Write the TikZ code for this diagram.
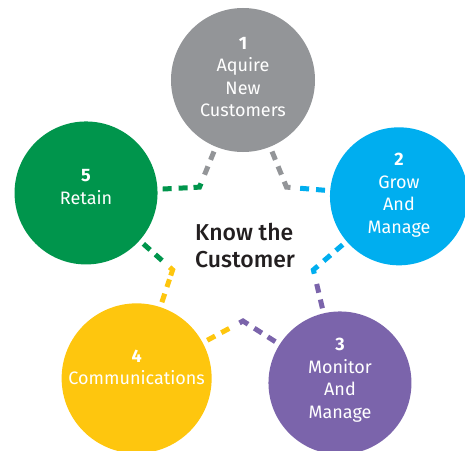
\documentclass[tikz,border=0pt]{standalone}
\usepackage{fontspec}
\setmainfont{Fira Sans}
\newfontfamily\midfont{Fira Sans Medium}
\usetikzlibrary{calc}

\definecolor{stage1}{HTML}{939598}
\definecolor{stage2}{HTML}{00AEEF}
\definecolor{stage3}{HTML}{7B64AB}
\definecolor{stage4}{HTML}{FEC60E}
\definecolor{stage5}{HTML}{00954C}
\definecolor{inktext}{HTML}{231F20}

\begin{document}
\begin{tikzpicture}[x=1pt, y=1pt,
    stage/.style={circle, inner sep=0pt},
    caption/.style={text=white, align=center, inner sep=0pt,
        font=\fontsize{18}{22.5}\selectfont},
    link/.style={line width=5pt, dash pattern=on 9pt off 7pt,
        shorten <=5pt, shorten >=10pt},
    corner/.style={line width=5pt}]

    \useasboundingbox (-243,-203) rectangle (222,247);

    % Centre
    \node[font=\midfont\fontsize{23}{27}\selectfont, text=inktext, align=left,
        anchor=west, inner sep=0pt] (Centre) at (-48,1) {Know the\\Customer};

    % Stages round the ring
    \foreach \i/\a/\r/\d in {1/90/167/144, 2/18/164/138, 3/-54.5/167/143,
                             4/-129/169/150, 5/161/166/143}
    {
    	\node[stage, minimum size=\d pt, fill=stage\i] (Stage-\i) at (\a:\r pt) {};
    }

    % Stage captions
    \node[caption, yshift=3pt] (Caption-1) at (Stage-1) {\textbf{1}\\Aquire\\New\\Customers};
    \node[caption, yshift=1pt] (Caption-2) at (Stage-2) {\textbf{2}\\Grow\\And\\Manage};
    \node[caption, yshift=3pt] (Caption-3) at (Stage-3) {\textbf{3}\\Monitor\\And\\Manage};
    \node[caption, yshift=11pt] (Caption-4) at (Stage-4) {\textbf{4}\\Communications};
    \node[caption, yshift=6pt] (Caption-5) at (Stage-5) {\textbf{5}\\Retain};

    % Inner bends
    \foreach \i/\a in {1/54, 2/-18, 3/-90, 4/-162, 5/126}
    {
    	\coordinate (Bend-\i) at (\a:74pt);
    }

    % Dashed links, each stage runs to the next through a bend
    \foreach \i/\j in {1/2, 2/3, 3/4, 4/5, 5/1}
    {
    	\draw[link, stage\i] (Stage-\i) -- (Bend-\i);
    	\draw[link, stage\j] (Stage-\j) -- (Bend-\i);
    	\draw[corner, stage\i] ($(Bend-\i)!6pt!(Stage-\i)$) -- (Bend-\i)
    		-- ($(Bend-\i)!4pt!(Stage-\j)$);
    }
\end{tikzpicture}
\end{document}
